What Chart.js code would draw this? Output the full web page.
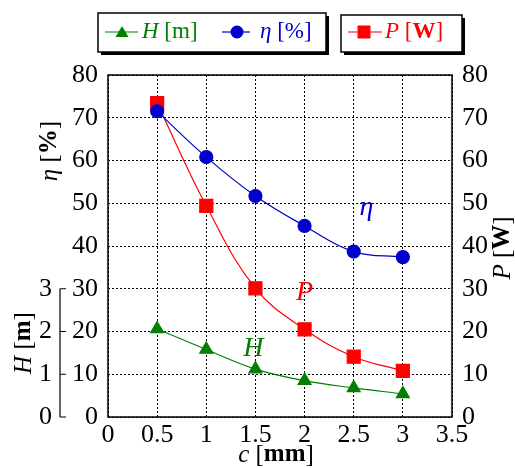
<!DOCTYPE html>
<html>
<head>
<meta charset="utf-8">
<script src="https://cdn.jsdelivr.net/npm/chart.js@4"></script>
<style>
  html, body { margin: 0; padding: 0; background: #fff; }
  #wrap { width: 515px; height: 468px; }
</style>
</head>
<body>
<div id="wrap"><canvas id="chart" width="515" height="468"></canvas></div>
<script>
// data
const cValues = [0.5, 1, 1.5, 2, 2.5, 3];
const headH = [2.06, 1.58, 1.12, 0.85, 0.68, 0.54];
const effEta = [71.5, 60.8, 51.7, 44.7, 38.7, 37.4];
const powerP = [73.4, 49.4, 30.1, 20.5, 14.1, 10.8];
const hTicks = [0, 1, 2, 3];

const GREEN = '#008000';
const BLUE = '#0000cc';
const RED = '#ff0000';
const SERIF = '"Liberation Serif", "DejaVu Serif", serif';

Chart.defaults.font.family = SERIF;

function pts(ys) {
    return cValues.map((x, i) => ({ x: x, y: ys[i] }));
}

// draw mixed-style text, parts = [[text, font], ...]
function richText(ctx, parts, x, y, align) {
    let total = 0;
    parts.forEach(p => { ctx.font = p[1]; total += ctx.measureText(p[0]).width; });
    let cx = align === 'center' ? x - total / 2 : x;
    ctx.textAlign = 'left';
    parts.forEach(p => {
        ctx.font = p[1];
        ctx.fillText(p[0], cx, y);
        cx += ctx.measureText(p[0]).width;
    });
}

function marker(ctx, type, x, y, color) {
    ctx.fillStyle = color;
    ctx.beginPath();
    if (type === 'triangle') {
        ctx.moveTo(x, y - 6);
        ctx.lineTo(x + 6.5, y + 5);
        ctx.lineTo(x - 6.5, y + 5);
        ctx.closePath();
    } else if (type === 'circle') {
        ctx.arc(x, y, 6.5, 0, Math.PI * 2);
    } else {
        ctx.rect(x - 6.5, y - 6.5, 13, 13);
    }
    ctx.fill();
}

function legendBox(ctx, x, y, w, h) {
    ctx.fillStyle = '#000';
    ctx.fillRect(x + 3, y + 3, w, h);
    ctx.fillStyle = '#fff';
    ctx.fillRect(x, y, w, h);
    ctx.strokeStyle = '#000';
    ctx.lineWidth = 1.5;
    ctx.strokeRect(x, y, w, h);
}

const decorPlugin = {
    id: 'decor',
    afterDraw(chart) {
        const ctx = chart.ctx;
        const a = chart.chartArea;
        const sx = chart.scales.x;
        const sy = chart.scales.y;
        const sh = chart.scales.yH;
        ctx.save();

        // frame
        ctx.strokeStyle = '#000';
        ctx.lineWidth = 1.5;
        ctx.strokeRect(a.left, a.top, a.right - a.left, a.bottom - a.top);

        // partial H axis line with ticks
        const hx = 60;
        ctx.lineWidth = 1.2;
        ctx.beginPath();
        ctx.moveTo(hx, sh.getPixelForValue(0));
        ctx.lineTo(hx, sh.getPixelForValue(3));
        hTicks.forEach(v => {
            const py = sh.getPixelForValue(v);
            ctx.moveTo(hx, py);
            ctx.lineTo(hx + 6, py);
        });
        ctx.stroke();

        // axis titles
        ctx.fillStyle = '#000';
        ctx.textBaseline = 'middle';
        const it = 'italic 25px ' + SERIF;
        const nm = '25px ' + SERIF;
        const bd = 'bold 25px ' + SERIF;

        ctx.save();
        ctx.translate(50, 151);
        ctx.rotate(-Math.PI / 2);
        richText(ctx, [['η', it], [' [', nm], ['%', bd], [']', nm]], 0, 0, 'center');
        ctx.restore();

        ctx.save();
        ctx.translate(24, 343);
        ctx.rotate(-Math.PI / 2);
        richText(ctx, [['H', it], [' [', nm], ['m', bd], [']', nm]], 0, 0, 'center');
        ctx.restore();

        ctx.save();
        ctx.translate(503, 248);
        ctx.rotate(-Math.PI / 2);
        richText(ctx, [['P', it], [' [', nm], ['W', bd], [']', nm]], 0, 0, 'center');
        ctx.restore();

        richText(ctx, [['c', it], [' [', nm], ['mm', bd], [']', nm]], 276, 455, 'center');

        // curve labels
        const big = 'italic 28px ' + SERIF;
        ctx.fillStyle = BLUE;
        richText(ctx, [['η', big]], sx.getPixelForValue(2.63), sy.getPixelForValue(49), 'center');
        ctx.fillStyle = RED;
        richText(ctx, [['P', big]], sx.getPixelForValue(2.0), sy.getPixelForValue(29), 'center');
        ctx.fillStyle = GREEN;
        richText(ctx, [['H', big]], sx.getPixelForValue(1.48), sy.getPixelForValue(16), 'center');

        // legends
        legendBox(ctx, 98, 13, 228, 39);
        legendBox(ctx, 341, 15, 121, 37);
        const lf = '23px ' + SERIF;
        const li = 'italic 23px ' + SERIF;
        const lb = 'bold 23px ' + SERIF;
        const ly = 32;
        ctx.lineWidth = 1.2;

        ctx.strokeStyle = GREEN;
        ctx.beginPath(); ctx.moveTo(105, ly); ctx.lineTo(138, ly); ctx.stroke();
        marker(ctx, 'triangle', 122, ly, GREEN);
        ctx.fillStyle = GREEN;
        richText(ctx, [['H', li], [' [m]', lf]], 142, ly, 'left');

        ctx.strokeStyle = BLUE;
        ctx.beginPath(); ctx.moveTo(222, ly); ctx.lineTo(250, ly); ctx.stroke();
        marker(ctx, 'circle', 237, ly, BLUE);
        ctx.fillStyle = BLUE;
        richText(ctx, [['η', li], [' [%]', lf]], 260, ly, 'left');

        ctx.strokeStyle = RED;
        ctx.beginPath(); ctx.moveTo(348, ly); ctx.lineTo(382, ly); ctx.stroke();
        marker(ctx, 'rect', 364, ly, RED);
        ctx.fillStyle = RED;
        richText(ctx, [['P', li], [' [', lf], ['W', lb], [']', lf]], 385, ly, 'left');

        ctx.restore();
    }
};

const tickFont = { family: SERIF, size: 26 };
const dotted = { color: '#000', lineWidth: 1, drawTicks: false };

new Chart(document.getElementById('chart'), {
    type: 'line',
    data: {
        datasets: [{
            label: 'H [m]',
            data: pts(headH),
            yAxisID: 'yH',
            borderColor: GREEN,
            backgroundColor: GREEN,
            borderWidth: 1.2,
            pointStyle: 'triangle',
            pointRadius: 7.5,
            pointHoverRadius: 7.5,
            tension: 0.4
        }, {
            label: 'η [%]',
            data: pts(effEta),
            yAxisID: 'y',
            borderColor: BLUE,
            backgroundColor: BLUE,
            borderWidth: 1.2,
            pointStyle: 'circle',
            pointRadius: 6.5,
            pointHoverRadius: 6.5,
            tension: 0.4
        }, {
            label: 'P [W]',
            data: pts(powerP),
            yAxisID: 'yP',
            borderColor: RED,
            backgroundColor: RED,
            borderWidth: 1.2,
            pointStyle: 'rect',
            pointRadius: 9.2,
            pointHoverRadius: 9.2,
            tension: 0.4
        }]
    },
    options: {
        responsive: false,
        animation: false,
        layout: { padding: { left: 0, right: 23, top: 75, bottom: 0 } },
        plugins: { legend: { display: false }, tooltip: { enabled: false } },
        scales: {
            x: {
                type: 'linear',
                min: 0, max: 3.5,
                ticks: { stepSize: 0.5, color: '#000', font: tickFont, padding: 3, callback: v => String(v) },
                grid: dotted,
                border: { display: false, dash: [2, 2] },
                afterFit: s => { s.height = 51; }
            },
            y: {
                position: 'left',
                weight: 0,
                min: 0, max: 80,
                ticks: { stepSize: 10, color: '#000', font: tickFont, padding: 10 },
                grid: dotted,
                border: { display: false, dash: [2, 2] },
                afterFit: s => { s.width = 42; }
            },
            yH: {
                position: 'left',
                weight: 1,
                min: 0, max: 8,
                ticks: {
                    stepSize: 1, color: '#000', font: tickFont, padding: 14,
                    callback: v => (hTicks.includes(v) ? String(v) : '')
                },
                grid: { display: false, drawTicks: false },
                border: { display: false },
                afterFit: s => { s.width = 66; }
            },
            yP: {
                position: 'right',
                min: 0, max: 80,
                ticks: { stepSize: 10, color: '#000', font: tickFont, padding: 10 },
                grid: { display: false, drawTicks: false },
                border: { display: false },
                afterFit: s => { s.width = 40; }
            }
        }
    },
    plugins: [decorPlugin]
});
</script>
</body>
</html>
